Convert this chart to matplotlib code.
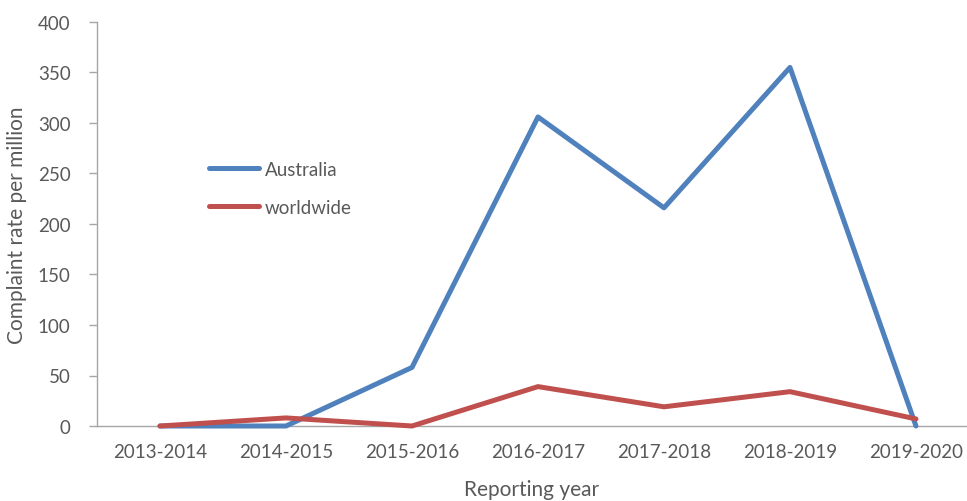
"""
Complaint rate per million, Australia vs worldwide, by reporting year.
"""
from matplotlib import pyplot

years = ["2013-2014", "2014-2015", "2015-2016", "2016-2017",
         "2017-2018", "2018-2019", "2019-2020"]
australia = [0, 0, 58, 306, 216, 355, 0]
worldwide = [0, 8, 0, 39, 19, 34, 7]

GREY = "#595959"
AXIS = "#A6A6A6"


def main():
    pyplot.rcParams["font.family"] = ["Lato", "DejaVu Sans"]

    fig = pyplot.figure(figsize=(9.67, 5.02), dpi=100)
    ax = fig.add_axes([0.1003, 0.1494, 0.8997, 0.8048])

    x = range(len(years))
    ax.plot(x, australia, color="#4F81BD", lw=3.6, label="Australia",
            solid_capstyle="round", clip_on=False, zorder=3)
    ax.plot(x, worldwide, color="#C0504D", lw=3.6, label="worldwide",
            solid_capstyle="round", clip_on=False, zorder=3)

    ax.set_xlim(-0.5, 6.405)
    ax.set_ylim(0, 400)
    ax.set_yticks(range(0, 401, 50))
    ax.set_xticks(list(x))
    ax.set_xticklabels(years)

    for side in ("top", "right"):
        ax.spines[side].set_visible(False)
    for side in ("left", "bottom"):
        ax.spines[side].set_color(AXIS)
        ax.spines[side].set_linewidth(1.0)
    ax.tick_params(axis="y", colors=AXIS, labelcolor=GREY, labelsize=13.5,
                   length=6, width=1.0, pad=13)
    ax.tick_params(axis="x", length=0, labelcolor=GREY, labelsize=13.5, pad=12)

    ax.set_ylabel("Complaint rate per million", color=GREY, fontsize=15, labelpad=8)
    ax.set_xlabel("Reporting year", color=GREY, fontsize=15, labelpad=14)

    ax.legend(loc="upper left", bbox_to_anchor=(0.109, 0.698), frameon=False,
              fontsize=13.5, labelcolor=GREY, handlelength=2.7,
              labelspacing=1.1, handletextpad=0.3)

    fig.savefig("out.png", dpi=100)
    pyplot.close(fig)


if __name__ == "__main__":
    main()
